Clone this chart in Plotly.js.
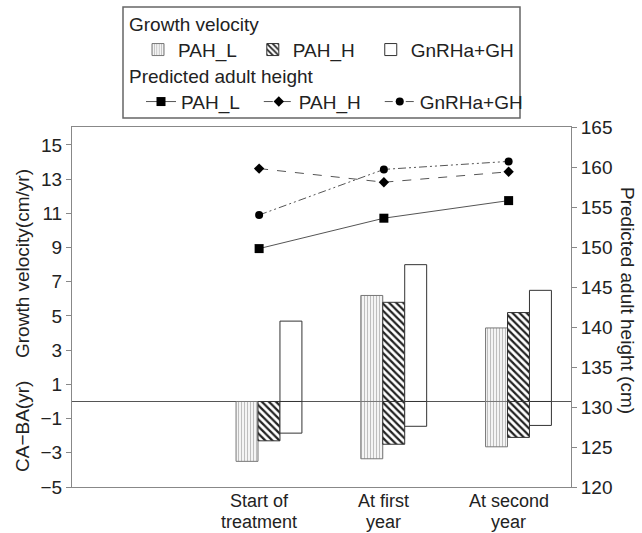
<!DOCTYPE html>
<html>
<head>
<meta charset="utf-8">
<script src="https://cdn.plot.ly/plotly-3.0.1.min.js"></script>
<style>html,body{margin:0;padding:0;background:#fff;}#chart{width:642px;height:533px;}</style>
</head>
<body>
<div id="chart"></div>
<script>
// ---- data ----
const catLine1 = ["Start of", "At first", "At second"];
const catLine2 = ["treatment", "year", "year"];
const seriesNames = ["PAH_L", "PAH_H", "GnRHa+GH"];
// Growth velocity (cm/yr), left axis
const gvPAH_L = [null, 6.2, 4.3];
const gvPAH_H = [null, 5.8, 5.2];
const gvGnRHa = [4.7, 8.0, 6.5];
// CA-BA (yr), left axis
const cabaPAH_L = [-3.5, -3.35, -2.65];
const cabaPAH_H = [-2.3, -2.5, -2.1];
const cabaGnRHa = [-1.85, -1.45, -1.4];
// Predicted adult height (cm), right axis
const pahPAH_L = [149.8, 153.6, 155.8];
const pahPAH_H = [159.8, 158.1, 159.4];
const pahGnRHa = [154.0, 159.7, 160.7];

const leftTicks = [-5, -3, -1, 1, 3, 5, 7, 9, 11, 13, 15];
const rightTicks = [120, 125, 130, 135, 140, 145, 150, 155, 160, 165];

// ---- layout helpers ----
const xs = catLine1.map((_, i) => i + 1);
const barW = 0.176;
const barOffsets = [-0.185, -0.009, 0.167];
const FONT = "Liberation Sans, Arial, sans-serif";

const barStyles = [
  {color: "#f2f2f2", line: {color: "#777", width: 1}, pattern: {shape: "|", fgcolor: "#b8b8b8", bgcolor: "#f4f4f4", size: 3, solidity: 0.3}},
  {color: "#fff", line: {color: "#333", width: 1}, pattern: {shape: "\\", fgcolor: "#222", bgcolor: "#fff", size: 5, solidity: 0.45}},
  {color: "#fff", line: {color: "#333", width: 1}, pattern: {shape: ""}}
];

const gv = [gvPAH_L, gvPAH_H, gvGnRHa];
const caba = [cabaPAH_L, cabaPAH_H, cabaGnRHa];
const pah = [pahPAH_L, pahPAH_H, pahGnRHa];

const traces = [];
seriesNames.forEach((name, k) => {
  traces.push({
    type: "bar", name: name, x: xs, y: gv[k], width: barW, offset: barOffsets[k],
    marker: barStyles[k], legend: "legend", yaxis: "y", xaxis: "x", hoverinfo: "y"
  });
});
seriesNames.forEach((name, k) => {
  traces.push({
    type: "bar", name: name + " CA-BA", x: xs, y: caba[k], width: barW, offset: barOffsets[k],
    marker: barStyles[k], showlegend: false, yaxis: "y", xaxis: "x", hoverinfo: "y"
  });
});
const lineStyles = [
  {line: {color: "#555", width: 1, dash: "solid"}, marker: {symbol: "square", size: 9, color: "#000"}},
  {line: {color: "#555", width: 1, dash: "dash"}, marker: {symbol: "diamond", size: 8, color: "#000"}},
  {line: {color: "#555", width: 1, dash: "8px,3px,2px,3px,2px,3px"}, marker: {symbol: "circle", size: 8, color: "#000"}}
];
seriesNames.forEach((name, k) => {
  traces.push(Object.assign({
    type: "scatter", mode: "lines+markers", name: name, x: xs, y: pah[k],
    yaxis: "y2", xaxis: "x", legend: "legend2"
  }, lineStyles[k]));
});

const L = 72, R = 571, T = 127, B = 487, W = 642, H = 533;
const px = v => (v - L) / (R - L);
const py = v => (B - v) / (B - T);
const tfont = {family: FONT, size: 19, color: "#222"};

const annotations = [];
catLine1.forEach((t, i) => {
  annotations.push({xref: "x", yref: "paper", x: xs[i], y: py(501), text: t, showarrow: false,
    font: {family: FONT, size: 18, color: "#222"}, xanchor: "center", yanchor: "middle", borderpad: 0});
  annotations.push({xref: "x", yref: "paper", x: xs[i], y: py(521.5), text: catLine2[i], showarrow: false,
    font: {family: FONT, size: 18, color: "#222"}, xanchor: "center", yanchor: "middle", borderpad: 0});
});
// axis titles
annotations.push({xref: "paper", yref: "paper", x: px(22), y: py(264), text: "Growth velocity(cm/yr)",
  textangle: -90, showarrow: false, font: tfont, xanchor: "center", yanchor: "middle"});
annotations.push({xref: "paper", yref: "paper", x: px(22), y: py(427), text: "CA\u2212BA(yr)",
  textangle: -90, showarrow: false, font: tfont, xanchor: "center", yanchor: "middle"});
annotations.push({xref: "paper", yref: "paper", x: px(628), y: py(300), text: "Predicted adult height (cm)",
  textangle: 90, showarrow: false, font: tfont, xanchor: "center", yanchor: "middle"});

const layout = {
  width: W, height: H,
  margin: {l: L, r: W - R, t: T, b: H - B, pad: 0, autoexpand: false},
  paper_bgcolor: "#fff", plot_bgcolor: "#fff",
  font: tfont,
  barmode: "overlay",
  xaxis: {range: [-0.5, 3.5], showticklabels: false, ticks: "", showgrid: false, zeroline: false,
    showline: true, linecolor: "#888", linewidth: 1, mirror: true, fixedrange: true},
  yaxis: {range: [-5, 16.05], tickvals: leftTicks, ticks: "outside", ticklen: 5, tickcolor: "#888",
    showgrid: false, zeroline: true, zerolinecolor: "#555", zerolinewidth: 1,
    showline: true, linecolor: "#888", linewidth: 1, tickfont: tfont},
  yaxis2: {range: [120, 165], tickvals: rightTicks, overlaying: "y", side: "right", ticks: "outside", ticklen: 5,
    tickcolor: "#888", showgrid: false, zeroline: false, showline: true, linecolor: "#888", linewidth: 1,
    tickfont: tfont},
  legend: {orientation: "h", x: px(127), y: py(6), xanchor: "left", yanchor: "top", indentation: 11,
    title: {text: "Growth velocity", side: "top", font: tfont},
    font: tfont, bgcolor: "rgba(0,0,0,0)", borderwidth: 0, traceorder: "normal"},
  legend2: {orientation: "h", x: px(127), y: py(58), xanchor: "left", yanchor: "top", indentation: 14,
    title: {text: "Predicted adult height", side: "top", font: tfont},
    font: tfont, bgcolor: "rgba(0,0,0,0)", borderwidth: 0, traceorder: "normal"},
  shapes: [{type: "rect", xref: "paper", yref: "paper", x0: px(123), x1: px(520), y0: py(7), y1: py(118),
    line: {color: "#666", width: 1.5}, fillcolor: "rgba(0,0,0,0)"}],
  annotations: annotations,
  showlegend: true
};

Plotly.newPlot("chart", traces, layout, {displayModeBar: false, staticPlot: true});
</script>
</body>
</html>
